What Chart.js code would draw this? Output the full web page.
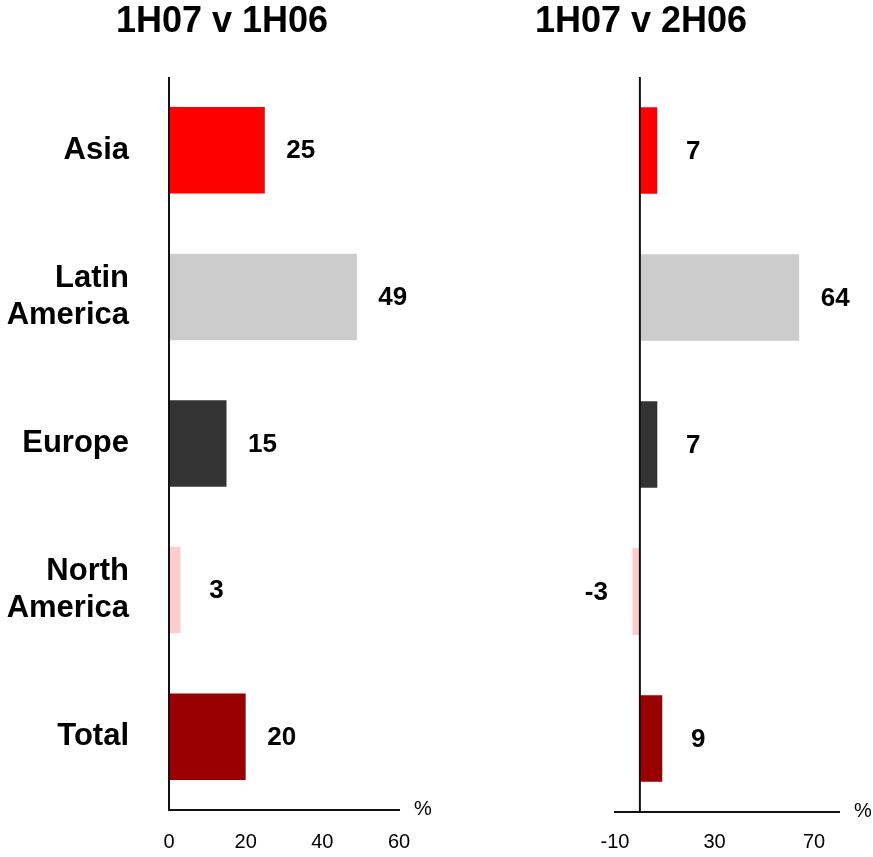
<!DOCTYPE html>
<html>
<head>
<meta charset="utf-8">
<script src="https://cdn.jsdelivr.net/npm/chart.js@4/dist/chart.umd.min.js"></script>
<style>
  html, body { margin: 0; padding: 0; background: #fff; }
  #wrap { position: relative; width: 873px; height: 857px; overflow: hidden; }
  #left { position: absolute; left: 0; top: 0; }
  #right { position: absolute; left: 440px; top: 0; }
</style>
</head>
<body>
<div id="wrap">
  <canvas id="left" width="440" height="857"></canvas>
  <canvas id="right" width="433" height="857"></canvas>
</div>
<script>
// Regional growth, %
const categories = ['Asia', ['Latin', 'America'], 'Europe', ['North', 'America'], 'Total'];
const growthVs1H06 = [25, 49, 15, 3, 20];
const growthVs2H06 = [7, 64, 7, -3, 9];
const regionColours = ['#FF0000', '#CCCCCC', '#333333', '#FFCCCC', '#990000'];
const leftTickValues = [0, 20, 40, 60];
const rightTickValues = [-10, 30, 70];
const titleLeft = '1H07 v 1H06';
const titleRight = '1H07 v 2H06';
const unitLabel = '%';

const FONT = '"Liberation Sans", Arial, Helvetica, sans-serif';

// Panel title, zero line, value labels and unit sign
const panelDecor = {
  id: 'panelDecor',
  afterDatasetsDraw(chart, args, opts) {
    const { ctx, chartArea } = chart;
    const xs = chart.scales.x;
    ctx.save();
    // vertical line at zero
    const x0 = xs.getPixelForValue(0);
    ctx.strokeStyle = '#111';
    ctx.lineWidth = 2;
    ctx.beginPath();
    ctx.moveTo(x0, chartArea.top);
    ctx.lineTo(x0, chartArea.bottom);
    ctx.stroke();

    // value labels
    const meta = chart.getDatasetMeta(0);
    const values = chart.data.datasets[0].data;
    ctx.fillStyle = '#000';
    ctx.font = 'bold 26px ' + FONT;
    ctx.textAlign = 'center';
    ctx.textBaseline = 'middle';
    meta.data.forEach((bar, i) => {
      const v = values[i];
      const dir = v < 0 ? -1 : 1;
      ctx.fillText(String(v), bar.x + dir * 36, bar.y + 1);
    });

    // unit sign at the end of the value axis
    ctx.font = '20px ' + FONT;
    ctx.fillText(unitLabel, chartArea.right + 24, chartArea.bottom - 1);

    // title
    ctx.font = 'bold 36px ' + FONT;
    ctx.fillText(opts.text, opts.x, 22);
    ctx.restore();
  }
};

function makeChart(id, values, ticks, min, max, opts) {
  return new Chart(document.getElementById(id), {
    type: 'bar',
    data: {
      labels: categories,
      datasets: [{
        data: values,
        backgroundColor: regionColours,
        borderWidth: 0,
        categoryPercentage: 1,
        barPercentage: 0.59
      }]
    },
    options: {
      indexAxis: 'y',
      responsive: false,
      animation: false,
      layout: { padding: opts.padding },
      plugins: {
        legend: { display: false },
        tooltip: { enabled: false },
        title: { display: false },
        panelDecor: { text: opts.title, x: opts.titleX }
      },
      scales: {
        x: {
          type: 'linear',
          min: min,
          max: max,
          afterBuildTicks(scale) { scale.ticks = ticks.map(v => ({ value: v })); },
          afterFit(scale) {
            scale.height = opts.xHeight;
            scale.paddingLeft = 0;
            scale.paddingRight = 0;
          },
          grid: { display: false, drawTicks: false },
          border: { display: true, color: '#111', width: 2 },
          ticks: {
            color: '#000',
            font: { family: FONT, size: 20 },
            padding: opts.tickPad,
            maxRotation: 0
          }
        },
        y: {
          display: opts.showCategories,
          afterFit(scale) {
            scale.width = opts.yWidth;
            scale.paddingTop = 0;
            scale.paddingBottom = 0;
          },
          grid: { display: false, drawTicks: false },
          border: { display: false },
          ticks: {
            color: '#000',
            font: { family: FONT, size: 31, weight: 'bold', lineHeight: 1.2 },
            padding: 40
          }
        }
      }
    },
    plugins: [panelDecor]
  });
}

makeChart('left', growthVs1H06, leftTickValues, 0, 60, {
  padding: { left: 0, right: 41, top: 77, bottom: 0 },
  yWidth: 169,
  xHeight: 47,
  tickPad: 20,
  showCategories: true,
  title: titleLeft,
  titleX: 222
});

makeChart('right', growthVs2H06, rightTickValues, -10, 80, {
  padding: { left: 175, right: 34, top: 77, bottom: 0 },
  yWidth: 0,
  xHeight: 45,
  tickPad: 18,
  showCategories: false,
  title: titleRight,
  titleX: 201
});
</script>
</body>
</html>
